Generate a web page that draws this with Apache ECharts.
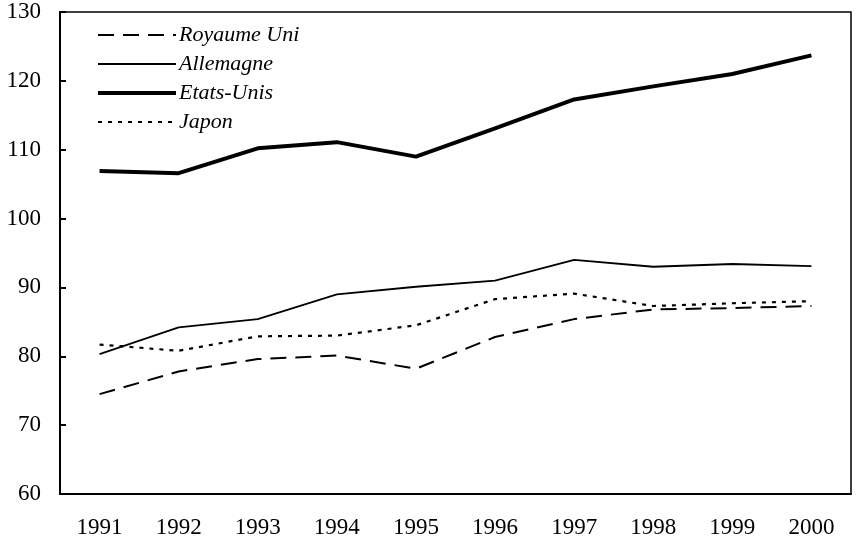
<!DOCTYPE html>
<html><head><meta charset="utf-8">
<script src="https://cdn.jsdelivr.net/npm/echarts@6/dist/echarts.min.js"></script>
<style>html,body{margin:0;padding:0;background:#fff}#c{width:864px;height:542px}</style>
</head><body><div id="c"></div>
<script>
const years = ['1991','1992','1993','1994','1995','1996','1997','1998','1999','2000'];
const royaumeUni = [74.5, 77.8, 79.6, 80.1, 78.2, 82.8, 85.4, 86.8, 87.0, 87.3];
const allemagne = [80.3, 84.2, 85.4, 89.0, 90.1, 91.0, 94.0, 93.0, 93.4, 93.1];
const etatsUnis = [106.9, 106.6, 110.2, 111.1, 109.0, 113.1, 117.3, 119.2, 121.0, 123.7];
const japon = [81.7, 80.8, 82.9, 83.0, 84.5, 88.3, 89.1, 87.3, 87.7, 88.0];
const yTicks = [60, 70, 80, 90, 100, 110, 120, 130];

const font = '"Liberation Serif", "Times New Roman", serif';
const chart = echarts.init(document.getElementById('c'), null, {renderer: 'canvas'});
function mk(name, data, width, type) {
  return {name, type: 'line', data, symbol: 'none', showSymbol: false, smooth: false,
    lineStyle: {color: '#000', width, type}, itemStyle: {color: '#000'}, z: 3};
}
chart.setOption({
  animation: false,
  backgroundColor: '#fff',
  grid: {left: 60, right: 13, top: 12, bottom: 48, show: true, borderColor: '#000', borderWidth: 1.5},
  legend: {
    orient: 'vertical', left: 91, top: 19, itemWidth: 78, itemHeight: 14, itemGap: 7,
    itemStyle: {opacity: 0},
    lineStyle: {width: 'inherit', type: 'inherit'},
    textStyle: {fontFamily: font, fontStyle: 'italic', fontSize: 22, color: '#000', padding: [0,0,0,-2]},
    data: ['Royaume Uni', 'Allemagne', 'Etats-Unis', 'Japon']
  },
  xAxis: {
    type: 'category', data: years, boundaryGap: true,
    axisLine: {lineStyle: {color: '#000', width: 2}},
    axisTick: {inside: true, length: 6, lineStyle: {color: '#000', width: 2}},
    axisLabel: {fontFamily: font, fontSize: 23, color: '#000', margin: 22}
  },
  yAxis: {
    type: 'value', min: yTicks[0], max: yTicks[yTicks.length-1], interval: 10,
    axisLine: {show: true, lineStyle: {color: '#000', width: 2}},
    axisTick: {show: true, inside: true, length: 6, lineStyle: {color: '#000', width: 2}},
    splitLine: {show: false},
    axisLabel: {fontFamily: font, fontSize: 23, color: '#000', margin: 19}
  },
  series: [
    mk('Royaume Uni', royaumeUni, 2, [16, 9]),
    mk('Allemagne', allemagne, 1.8, 'solid'),
    mk('Etats-Unis', etatsUnis, 4, 'solid'),
    mk('Japon', japon, 2.2, [4, 6])
  ]
});
</script></body></html>
